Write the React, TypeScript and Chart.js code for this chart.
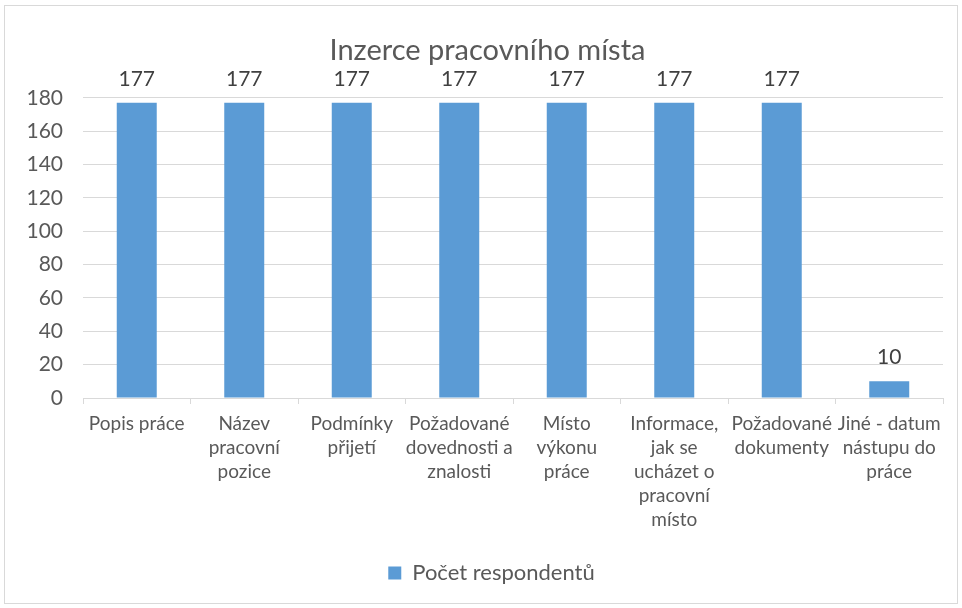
import React, { useEffect, useRef } from "react";
import { Chart, registerables } from "chart.js";

Chart.register(...registerables);

const TITLE = "Inzerce pracovního místa";
const SERIES_LABEL = "Počet respondentů";
const CATEGORIES: string[][] = [
  ["Popis práce"],
  ["Název", "pracovní", "pozice"],
  ["Podmínky", "přijetí"],
  ["Požadované", "dovednosti a", "znalosti"],
  ["Místo", "výkonu", "práce"],
  ["Informace,", "jak se", "ucházet o", "pracovní", "místo"],
  ["Požadované", "dokumenty"],
  ["Jiné - datum", "nástupu do", "práce"],
];
const VALUES: number[] = [177, 177, 177, 177, 177, 177, 177, 10];
const Y_MIN = 0;
const Y_MAX = 180;
const Y_STEP = 20;

const FONT = "Lato, 'Open Sans', sans-serif";
const TEXT = "#595959";
const GRID = "#D9D9D9";
const BAR = "#5B9BD5";

const dataLabels = {
  id: "dataLabels",
  afterDatasetsDraw(chart: any) {
    const ctx = chart.ctx;
    ctx.save();
    ctx.font = `21px ${FONT}`;
    ctx.fillStyle = "#404040";
    ctx.textAlign = "center";
    ctx.textBaseline = "middle";
    chart.data.datasets.forEach((ds: any, i: number) => {
      const meta = chart.getDatasetMeta(i);
      meta.data.forEach((el: any, j: number) => {
        ctx.fillText(String(ds.data[j]), el.x, el.y - 24);
      });
    });
    ctx.restore();
  },
};

const frame = {
  id: "frame",
  beforeDraw(chart: any) {
    const ctx = chart.ctx;
    ctx.save();
    ctx.fillStyle = "#ffffff";
    ctx.fillRect(0, 0, chart.width, chart.height);
    ctx.strokeStyle = GRID;
    ctx.lineWidth = 1;
    ctx.strokeRect(4.5, 5.5, chart.width - 9, chart.height - 10);
    ctx.restore();
  },
};

const shiftBlocks = {
  id: "shiftBlocks",
  afterLayout(chart: any) {
    const t = chart.titleBlock;
    if (t) {
      t.left += 16;
      t.right += 16;
    }
    const l = chart.legend;
    if (l) {
      l.left += 20;
      l.right += 20;
    }
  },
};

export default function App() {
  const ref = useRef<HTMLCanvasElement>(null);
  useEffect(() => {
    if (!ref.current) return;
    const chart = new Chart(ref.current, {
      type: "bar",
      data: {
        labels: CATEGORIES,
        datasets: [
          {
            label: SERIES_LABEL,
            data: VALUES,
            backgroundColor: BAR,
            borderWidth: 0,
            barPercentage: 0.62,
            categoryPercentage: 0.6,
          },
        ],
      },
      plugins: [frame, dataLabels, shiftBlocks],
      options: {
        animation: false,
        responsive: true,
        maintainAspectRatio: false,
        layout: { padding: { top: 20, right: 19, bottom: 14, left: 0 } },
        plugins: {
          title: {
            display: true,
            text: TITLE,
            color: TEXT,
            font: { family: FONT, size: 29, weight: "normal" },
            padding: { top: 13, bottom: 30 },
          },
          legend: {
            position: "bottom",
            labels: {
              color: TEXT,
              font: { family: FONT, size: 22 },
              boxWidth: 13,
              boxHeight: 13,
              padding: 10,
            },
          },
          tooltip: { enabled: false },
        },
        scales: {
          x: {
            offset: true,
            grid: {
              display: true,
              offset: true,
              drawOnChartArea: false,
              drawTicks: true,
              tickLength: 6,
              color: GRID,
            },
            border: { display: true, color: GRID },
            ticks: {
              color: TEXT,
              font: { family: FONT, size: 19, lineHeight: 24 / 19 },
              maxRotation: 0,
              minRotation: 0,
              autoSkip: false,
              padding: 8,
            },
            afterFit(scale: any) {
              scale.height = 154;
            },
          },
          y: {
            min: Y_MIN,
            max: Y_MAX,
            grid: { color: GRID, drawTicks: false },
            border: { display: false },
            ticks: {
              stepSize: Y_STEP,
              color: TEXT,
              font: { family: FONT, size: 21 },
              padding: 20,
            },
            afterFit(scale: any) {
              scale.width = 83;
            },
          },
        },
      },
    });
    return () => chart.destroy();
  }, []);
  return (
    <div style={{ position: "fixed", left: 0, top: 0, width: 962, height: 608 }}>
      <canvas ref={ref} />
    </div>
  );
}
